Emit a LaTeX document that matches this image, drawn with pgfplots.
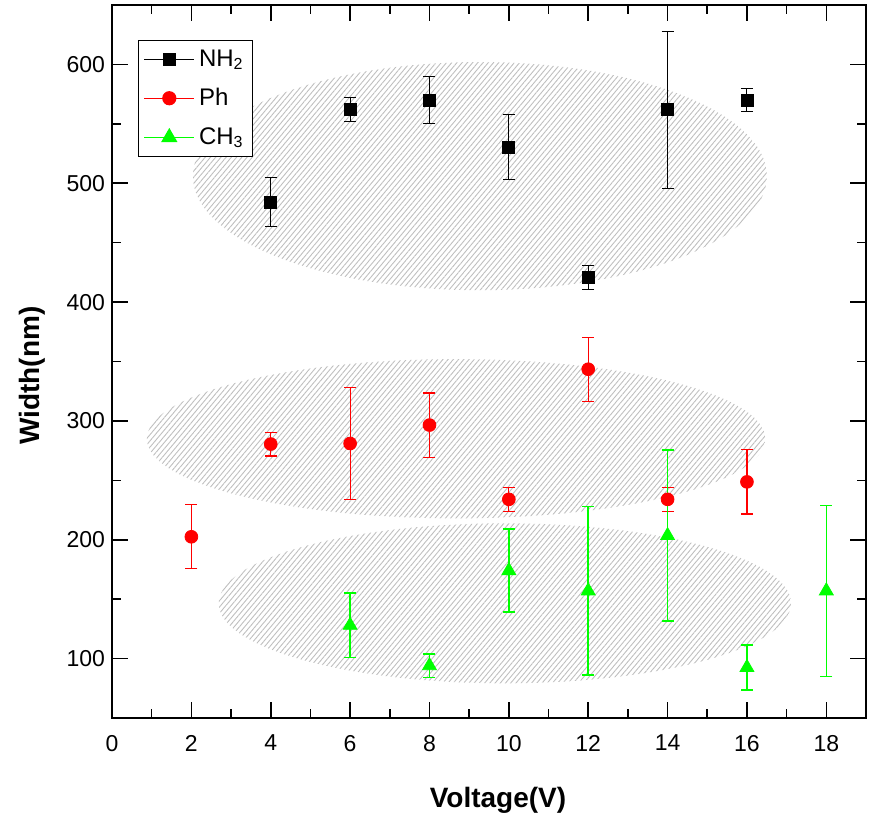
\documentclass[border=0pt]{standalone}
\usepackage{fontspec}
\setmainfont{Liberation Sans}
\usepackage{pgfplots}
\pgfplotsset{compat=1.18}
\usetikzlibrary{patterns.meta}
\definecolor{ogreen}{RGB}{0,255,0}
\definecolor{ored}{RGB}{255,0,0}
\begin{document}
\begin{tikzpicture}
\begin{axis}[
  name=ax, scale only axis, width=377pt, height=356.5pt,
  xmin=0, xmax=19, ymin=50, ymax=650,
  xtick={0,2,...,18}, ytick={100,200,...,600},
  minor x tick num=1, minor y tick num=1,
  tick align=inside, tick pos=both,
  major tick length=8pt, minor tick length=4.5pt,
  axis line style={line width=1pt},
  tick style={line width=0.8pt, black},
  /pgf/number format/assume math mode=true,
  ticklabel style={font=\fontsize{11.5}{13}\selectfont},
  xticklabel style={yshift=-5pt},
  xlabel={Voltage(V)}, ylabel={Width(nm)},
  label style={font=\fontsize{14}{16}\selectfont\bfseries},
  xlabel style={at={(axis description cs:0.512,-0.115)}, anchor=center},
  ylabel style={at={(axis description cs:-0.106,0.48)}, anchor=center},
  legend style={at={(rel axis cs:0.0345,0.951)}, anchor=north west, draw=black, line width=0.6pt,
    font=\fontsize{12}{14}\selectfont, row sep=5.5pt, inner sep=2.5pt},
  legend cell align=left,
  legend image code/.code={\draw[mark repeat=2,mark phase=2,#1,sharp plot,line width=0.7pt] plot coordinates {(0pt,0pt) (12.5pt,0pt) (25pt,0pt)};},
]
\fill[pattern={Lines[angle=50,distance=2pt,line width=0.45pt]}, pattern color=gray!50] (axis cs:9.27,506) ellipse [x radius=7.23, y radius=96];
\fill[pattern={Lines[angle=50,distance=2pt,line width=0.45pt]}, pattern color=gray!50] (axis cs:8.67,285) ellipse [x radius=7.79, y radius=67];
\fill[pattern={Lines[angle=50,distance=2pt,line width=0.45pt]}, pattern color=gray!50] (axis cs:9.9,146.5) ellipse [x radius=7.21, y radius=67.3];

\addplot[only marks, black, mark=square*, mark size=3pt,
  error bars/.cd, y dir=both, y explicit,
  error bar style={line width=0.5pt},
  error mark options={rotate=90, mark size=3pt, line width=0.5pt}]
coordinates {
 (4,484) +- (0,20.5)
 (6,562) +- (0,10)
 (8,570) +- (0,20)
 (10,530.5) +- (0,27)
 (12,421) +- (0,10)
 (14,562) +- (0,66)
 (16,570) +- (0,10)
};
\addlegendentry{NH\textsubscript{2}}

\addplot[only marks, ored, mark=*, mark size=3.2pt,
  error bars/.cd, y dir=both, y explicit,
  error bar style={line width=0.55pt},
  error mark options={rotate=90, mark size=3pt, line width=0.55pt}]
coordinates {
 (2,202.5) +- (0,27)
 (4,280.5) +- (0,10)
 (6,281) +- (0,47)
 (8,296.5) +- (0,27)
 (10,234) +- (0,10)
 (12,343.5) +- (0,27)
 (14,234) +- (0,10)
 (16,248.7) +- (0,27)
};
\addlegendentry{Ph}

\addplot[only marks, ogreen, mark=triangle*, mark size=4pt,
  error bars/.cd, y dir=both, y explicit,
  error bar style={line width=0.75pt, ogreen},
  error mark options={rotate=90, mark size=3pt, line width=0.75pt, ogreen}]
coordinates {
 (6,128) +- (0,27)
 (8,94) +- (0,10)
 (10,174) +- (0,35)
 (12,157) +- (0,71)
 (14,203.5) +- (0,72)
 (16,92.5) +- (0,19)
 (18,157) +- (0,72)
};
\addlegendentry{CH\textsubscript{3}}
\end{axis}
\pgfresetboundingbox
\path[use as bounding box] ([xshift=-56pt,yshift=-53.5pt]ax.south west) rectangle ([xshift=3pt,yshift=2.5pt]ax.north east);
\end{tikzpicture}
\end{document}
